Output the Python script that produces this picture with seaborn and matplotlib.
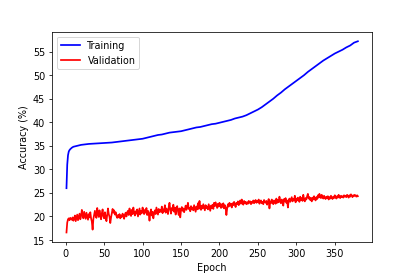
import numpy as np
import pandas as pd
import matplotlib
matplotlib.use('Agg')
import matplotlib.pyplot as plt
import seaborn as sns

train_epoch = [1, 2, 3, 4, 5, 6, 8, 10, 15, 20, 25, 30, 35, 40, 45, 50, 55, 60, 65, 70,
               75, 80, 85, 90, 95, 100, 105, 110, 115, 120, 125, 130, 135, 140, 145, 150,
               155, 160, 165, 170, 175, 180, 185, 190, 195, 200, 205, 210, 215, 220, 225,
               230, 235, 240, 245, 250, 255, 260, 265, 270, 275, 280, 285, 290, 295, 300,
               305, 310, 315, 320, 325, 330, 335, 340, 345, 350, 355, 360, 365, 370, 375, 380]
train_acc = [26.0, 31.0, 33.0, 33.8, 34.1, 34.3, 34.6, 34.8, 35.0, 35.2, 35.3, 35.4, 35.45, 35.5,
             35.55, 35.6, 35.65, 35.7, 35.8, 35.9, 36.0, 36.1, 36.2, 36.3, 36.4, 36.5, 36.7, 36.9,
             37.1, 37.3, 37.4, 37.6, 37.8, 37.9, 38.0, 38.1, 38.3, 38.5, 38.7, 38.9, 39.0, 39.2,
             39.4, 39.6, 39.7, 39.9, 40.1, 40.3, 40.5, 40.8, 41.0, 41.2, 41.5, 41.9, 42.3, 42.7,
             43.2, 43.8, 44.4, 45.0, 45.7, 46.3, 47.0, 47.6, 48.2, 48.8, 49.4, 50.0, 50.7, 51.3,
             51.9, 52.5, 53.1, 53.6, 54.1, 54.6, 55.0, 55.4, 55.9, 56.3, 56.9, 57.2]

# validation accuracy, one value per epoch (1..380)
val_acc = [
    16.6, 18.7, 19.4, 19.6, 19.2, 19.7, 19.5, 19.3, 19.8, 19.1, 19.6, 20.2, 19.0, 19.7, 20.4, 19.2, 19.9, 20.6, 19.4, 20.1,
    21.4, 20.3, 19.6, 21.0, 20.2, 19.5, 20.8, 20.0, 19.3, 20.5, 19.8, 20.9, 19.6, 18.9, 17.2, 19.5, 20.3, 21.2, 20.1, 19.7,
    21.8, 20.6, 19.9, 21.3, 20.2, 19.4, 20.7, 21.5, 20.0, 19.6, 20.9, 19.8, 19.0, 20.4, 21.7, 20.5, 19.9, 18.6, 19.8, 20.7,
    21.6, 20.8, 21.3, 20.4, 20.9, 20.1, 19.7, 20.3, 19.8, 20.5, 19.6, 20.2, 19.9, 20.6, 20.1, 19.5, 20.4, 20.8, 20.0, 20.9,
    21.2, 20.3, 21.7, 20.6, 20.1, 21.4, 20.5, 21.9, 20.8, 20.2, 21.1, 20.6, 21.5, 20.0, 20.9, 21.7, 20.4, 21.2, 20.7, 21.9,
    21.0, 20.5, 21.4, 20.8, 21.8, 20.3, 21.2, 20.6, 19.1, 20.8, 21.5, 20.2, 21.0, 19.6, 20.7, 21.3, 20.5, 21.9, 21.1, 20.4,
    21.6, 20.9, 21.4, 21.0, 22.1, 20.7, 21.5, 21.1, 22.4, 20.8, 21.7, 21.2, 20.5, 22.0, 22.9, 21.4, 20.6, 21.8, 21.3, 22.5,
    21.0, 21.9, 20.4, 21.6, 22.2, 21.1, 20.3, 21.7, 19.8, 21.4, 22.0, 21.2, 21.7, 20.9, 21.5, 22.3, 21.4, 22.0, 22.9, 21.6,
    21.8, 21.1, 22.2, 21.5, 21.9, 21.3, 22.4, 21.7, 21.0, 22.1, 21.5, 22.8, 21.6, 23.3, 22.0, 21.4, 22.3, 21.7, 22.6, 21.9,
    21.3, 22.4, 21.8, 22.1, 21.5, 22.6, 21.9, 21.2, 22.3, 21.8, 22.5, 21.6, 22.9, 22.2, 23.0, 22.4, 21.8, 22.7, 22.1, 22.9,
    22.5, 21.8, 22.6, 22.0, 22.8, 21.7, 22.4, 21.9, 20.3, 21.7, 22.6, 22.1, 22.9, 22.3, 22.7, 21.9, 22.8, 22.4, 23.1, 22.5,
    22.0, 22.9, 22.6, 23.2, 22.4, 22.8, 23.4, 22.7, 23.6, 22.9, 22.5, 23.3, 22.8, 23.1, 22.6, 23.0, 22.7, 23.3, 22.9, 23.2,
    22.6, 23.1, 22.9, 23.4, 22.8, 23.2, 23.5, 22.9, 23.3, 23.0, 23.6, 22.7, 23.2, 23.4, 22.8, 23.1, 22.6, 23.5, 23.1, 22.9,
    23.3, 22.5, 23.0, 23.7, 21.7, 23.2, 22.8, 23.6, 23.0, 22.6, 23.4, 23.1, 22.7, 23.8, 22.9, 23.5, 23.0, 24.2, 23.3, 22.8,
    23.6, 23.1, 22.3, 23.7, 23.2, 23.9, 22.9, 23.4, 21.9, 23.3, 23.8, 23.1, 23.6, 24.1, 23.2, 23.7, 23.4, 24.4, 23.0, 23.8,
    23.4, 24.0, 23.6, 23.1, 24.2, 23.5, 23.9, 23.3, 24.6, 23.7, 23.2, 23.9, 23.6, 24.3, 24.8, 23.8, 24.1, 23.5, 23.9, 23.2,
    24.0, 23.6, 24.3, 23.8, 23.4, 24.1, 23.7, 24.5, 24.0, 24.8, 24.2, 23.9, 24.6, 24.1, 23.8, 24.4, 24.0, 23.7, 24.2, 23.9,
    24.3, 23.6, 24.1, 23.8, 24.4, 24.0, 23.7, 24.2, 23.9, 24.5, 24.1, 23.8, 24.3, 24.0, 24.6, 24.2, 23.9, 24.4, 24.1, 24.3,
    24.0, 24.5, 24.2, 24.4, 24.1, 24.6, 24.3, 24.0, 24.5, 24.2, 24.7, 24.4, 24.1, 24.5, 24.3, 24.6, 24.4, 24.2, 24.5, 24.3,
]
val_epoch = list(range(1, len(val_acc) + 1))

df = pd.concat([
    pd.DataFrame({'epoch': train_epoch, 'acc': train_acc, 'set': 'Training'}),
    pd.DataFrame({'epoch': val_epoch, 'acc': val_acc, 'set': 'Validation'}),
])

fig, ax = plt.subplots(figsize=(6, 4.01), dpi=69.2)
fig.subplots_adjust(left=0.125, right=0.897, bottom=0.126, top=0.884)
sns.lineplot(data=df, x='epoch', y='acc', hue='set', palette={'Training': 'blue', 'Validation': 'red'},
             linewidth=1.8, ax=ax)

ax.set_xlabel('Epoch')
ax.set_ylabel('Accuracy (%)')
ax.set_xticks(np.arange(0, 351, 50))
ax.set_yticks(np.arange(15, 56, 5))
leg = ax.legend(loc='upper left')
leg.set_title(None)

fig.savefig('out.png', dpi=69.2)
